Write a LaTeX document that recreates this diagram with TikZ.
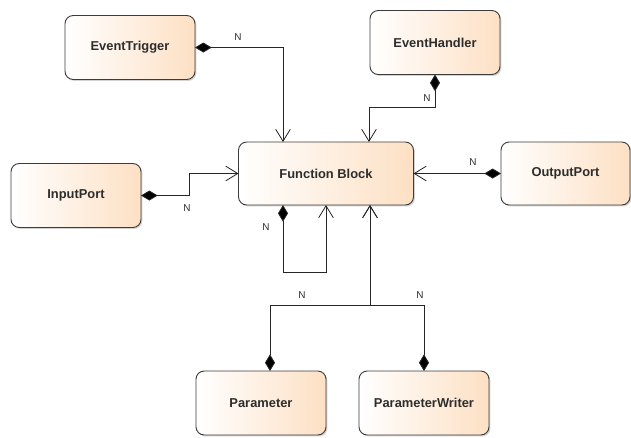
\documentclass[tikz,border=0pt]{standalone}
\usepackage{fontspec}
\setmainfont{Liberation Sans}
\usetikzlibrary{arrows.meta, calc, shadows}
\definecolor{peach}{RGB}{253,224,196}
\definecolor{edge}{RGB}{60,60,60}
\definecolor{txt}{RGB}{45,45,45}

\tikzset{
  block/.style={draw=edge, line width=0.8pt, rounded corners=7pt, left color=white, right color=peach,
    minimum width=3.9cm, minimum height=1.92cm, inner sep=0pt, outer sep=0pt,
    font=\fontsize{11}{13}\selectfont\bfseries, text=txt,
    drop shadow={shadow xshift=1.2pt, shadow yshift=-1.2pt, opacity=0.35}},
  comp/.style={draw=black!85, line width=0.7pt,
    {Diamond[length=0.5cm, width=0.3cm, fill=black]}-{Straight Barb[length=0.36cm, width=0.44cm, line width=0.7pt]}},
  mult/.style={font=\fontsize{8.5}{10}\selectfont, text=txt}
}

\begin{document}
\begin{tikzpicture}[x=0.03cm, y=-0.03cm]
\useasboundingbox (0,0) rectangle (631,437);

% classes
\node[block, minimum width=5.25cm, minimum height=1.89cm] (fb) at (326,173.5) {Function Block};
\node[block] (trig) at (130,47.5) {EventTrigger};
\node[block] (hand) at (435,42.5) {EventHandler};
\node[block] (inp) at (76,195.5) {InputPort};
\node[block, minimum width=3.87cm, minimum height=1.89cm] (outp) at (565.5,173.5) {OutputPort};
\node[block] (par) at (261,403) {Parameter};
\node[block] (pwr) at (424,403) {ParameterWriter};

% compositions
\draw[comp] (trig.east) -| ($(fb.north)+(-43,0)$);
\draw[comp] (hand.south) -- ++(0,33) -| ($(fb.north)+(43,0)$);
\draw[comp] (inp.east) -- ++(48,0) |- (fb.west);
\draw[comp] (outp.west) -- (fb.east);
\draw[comp] ($(fb.south)+(-43,0)$) -- ++(0,67) -| (fb.south);
\draw[comp] ($(par.north)+(9,0)$) |- ($(fb.south)+(44,100)$) -- ($(fb.south)+(44,0)$);
\draw[comp] (pwr.north) |- ($(fb.south)+(44,100)$) -- ($(fb.south)+(44,0)$);

% multiplicities
\node[mult] (m1) at (238,37) {N};
\node[mult] (m2) at (427,98) {N};
\node[mult] (m3) at (187,208) {N};
\node[mult] (m4) at (473,162) {N};
\node[mult] (m5) at (266,227) {N};
\node[mult] (m6) at (302,295) {N};
\node[mult] (m7) at (420,295) {N};

\end{tikzpicture}
\end{document}
